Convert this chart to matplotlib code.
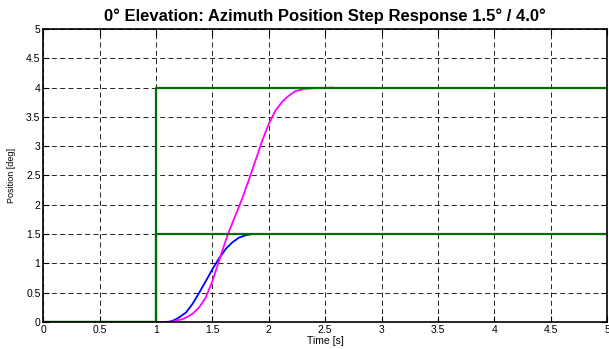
import matplotlib
matplotlib.use("Agg")
import matplotlib.pyplot as plt

plt.rcParams['font.family'] = ['Liberation Sans', 'DejaVu Sans']

# Reference (command) steps
cmd_t = [0, 1.0, 1.0, 5.0]
cmd_small = [0, 0, 1.5, 1.5]
cmd_large = [0, 0, 4.0, 4.0]

# Measured response, 1.5 deg step
resp_small_t = [0, 1.0, 1.06, 1.118, 1.16, 1.206, 1.265, 1.324, 1.383, 1.442, 1.50,
                1.56, 1.62, 1.677, 1.736, 1.795, 1.853, 1.95, 5.0]
resp_small_y = [0, 0, 0, 0.005, 0.03, 0.08, 0.16, 0.31, 0.50, 0.70, 0.90,
                1.09, 1.25, 1.36, 1.44, 1.48, 1.50, 1.5, 1.5]

# Measured response, 4.0 deg step
resp_large_t = [0, 1.0, 1.118, 1.18, 1.236, 1.28, 1.324, 1.383, 1.442, 1.50, 1.56,
                1.604, 1.648, 1.707, 1.765, 1.824, 1.883, 1.941, 2.0, 2.06, 2.12,
                2.177, 2.236, 2.32, 2.41, 2.56]
resp_large_y = [0, 0, 0, 0.02, 0.05, 0.09, 0.14, 0.25, 0.42, 0.70, 1.05,
                1.31, 1.55, 1.83, 2.11, 2.43, 2.76, 3.09, 3.38, 3.61, 3.76,
                3.86, 3.94, 3.98, 3.99, 4.0]

xticks = [0, 0.5, 1, 1.5, 2, 2.5, 3, 3.5, 4, 4.5, 5]
yticks = [0, 0.5, 1, 1.5, 2, 2.5, 3, 3.5, 4, 4.5, 5]
xtick_labels = ['0', '0.5', '1', '1.5', '2', '2.5', '3', '3.5', '4', '4.5', '5']
ytick_labels = ['0', '0.5', '1', '1.5', '2', '2.5', '3', '3.5', '4', '4.5', '5']

fig = plt.figure(figsize=(6.09, 3.49), dpi=100)
ax = fig.add_axes([0.0711, 0.0774, 0.9256, 0.8395])

ax.plot(resp_small_t, resp_small_y, color='#0000ff', lw=1.3)
ax.plot(resp_large_t, resp_large_y, color='#ff00ff', lw=1.3)
ax.plot(cmd_t, cmd_small, color='#006e00', lw=1.6)
ax.plot(cmd_t, cmd_large, color='#006e00', lw=1.6)

ax.set_xlim(0, 5)
ax.set_ylim(0, 5)
ax.set_xticks(xticks)
ax.set_xticklabels(xtick_labels)
ax.set_yticks(yticks)
ax.set_yticklabels(ytick_labels)
ax.tick_params(direction='in', length=4, width=0.8, top=True, right=True,
               labelsize=7.5, pad=2)
ax.grid(True, color='black', linestyle=(0, (6, 4)), lw=0.6)
for s in ax.spines.values():
    s.set_linewidth(1.2)

ax.set_xlabel('Time [s]', fontsize=7.5, labelpad=1)
ax.set_ylabel('Position [deg]', fontsize=6.5, labelpad=7)
ax.set_title('0° Elevation: Azimuth Position Step Response 1.5° / 4.0°',
             fontsize=12, fontweight='bold', pad=6)

fig.savefig('out.png', dpi=100)
